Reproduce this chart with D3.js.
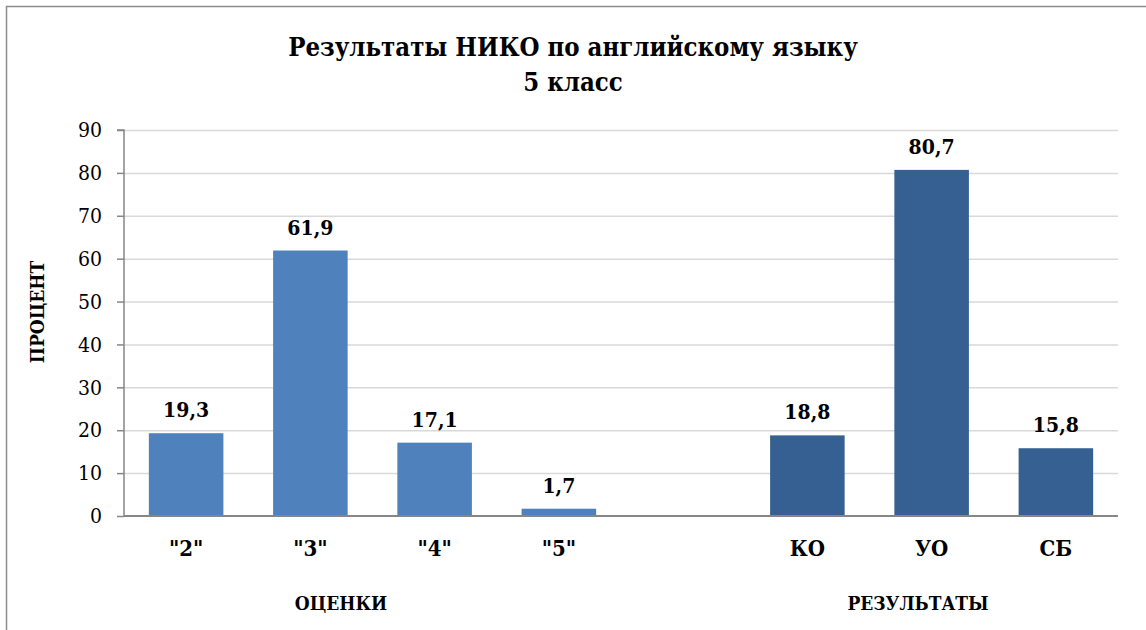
<!DOCTYPE html>
<html><head><meta charset="utf-8">
<script src="https://cdn.jsdelivr.net/npm/d3@7"></script>
<style>
body{margin:0;background:#fff;}
text{font-family:"DejaVu Serif",serif;font-stretch:condensed;}
</style></head>
<body><svg id="c" width="1146" height="630"></svg>
<script>
const categories = ['"2"','"3"','"4"','"5"','','КО','УО','СБ'];
const values = [19.3, 61.9, 17.1, 1.7, null, 18.8, 80.7, 15.8];
const groups = ["ОЦЕНКИ","ОЦЕНКИ","ОЦЕНКИ","ОЦЕНКИ","","РЕЗУЛЬТАТЫ","РЕЗУЛЬТАТЫ","РЕЗУЛЬТАТЫ"];
const yTicks = [0,10,20,30,40,50,60,70,80,90];
const titleLines = ["Результаты НИКО по английскому языку","5 класс"];
const yTitle = "ПРОЦЕНТ";
const groupColors = {"ОЦЕНКИ":"#4F81BD","РЕЗУЛЬТАТЫ":"#376092"};

const svg = d3.select("#c");
svg.append("rect").attr("x",6.5).attr("y",6.5).attr("width",1160).attr("height",640)
  .attr("fill","#fff").attr("stroke","#8c8c8c").attr("stroke-width",1.5);

const L=124, R=1118, T=130, B=516;
const x = d3.scaleBand().domain(categories.map((c,i)=>i)).range([L,R]).paddingInner(0.4).paddingOuter(0.2);
const y = d3.scaleLinear().domain([0,90]).range([B,T]);

// gridlines
svg.append("g").selectAll("line").data(yTicks.filter(t=>t>0)).join("line")
  .attr("x1",L).attr("x2",R).attr("y1",d=>y(d)+0.5).attr("y2",d=>y(d)+0.5)
  .attr("stroke","#d9d9d9").attr("stroke-width",1.5);

// y axis
const yAxis = svg.append("g").attr("transform",`translate(${L},0)`)
  .call(d3.axisLeft(y).tickValues(yTicks).tickSize(7).tickPadding(15));
yAxis.select(".domain").attr("stroke","#868686").attr("stroke-width",1.5).attr("d",`M-7,${T}H0V${B}`);
yAxis.selectAll(".tick line").attr("stroke","#868686").attr("stroke-width",1.5);
yAxis.selectAll(".tick text").attr("font-size",21).attr("fill","#000").attr("font-family","DejaVu Serif").style("font-stretch","condensed");

// bars
const data = categories.map((c,i)=>({i,c,v:values[i],g:groups[i]})).filter(d=>d.v!=null);
svg.append("g").selectAll("rect").data(data).join("rect")
  .attr("x",d=>x(d.i)).attr("width",x.bandwidth())
  .attr("y",d=>y(d.v)).attr("height",d=>B-y(d.v))
  .attr("fill",d=>groupColors[d.g]);

// baseline
svg.append("line").attr("x1",L).attr("x2",R).attr("y1",B).attr("y2",B)
  .attr("stroke","#868686").attr("stroke-width",2);

// value labels
svg.append("g").selectAll("text").data(data).join("text")
  .attr("x",d=>x(d.i)+x.bandwidth()/2).attr("y",d=>y(d.v)-16)
  .attr("text-anchor","middle").attr("font-size",21).attr("font-weight","bold")
  .text(d=>d.v.toFixed(1).replace(".",","));

// category labels
svg.append("g").selectAll("text").data(data).join("text")
  .attr("x",d=>x(d.i)+x.bandwidth()/2).attr("y",556)
  .attr("text-anchor","middle").attr("font-size",22).attr("font-weight","bold")
  .text(d=>d.c);

// group labels
const groupPos = [["ОЦЕНКИ",341],["РЕЗУЛЬТАТЫ",918]];
svg.append("g").selectAll("text").data(groupPos).join("text")
  .attr("x",d=>d[1]).attr("y",610).attr("text-anchor","middle")
  .attr("font-size",19).attr("font-weight","bold").text(d=>d[0]);

// y title
svg.append("text").attr("transform","translate(44,312) rotate(-90)")
  .attr("text-anchor","middle").attr("font-size",19).attr("font-weight","bold").text(yTitle);

// title
svg.append("g").selectAll("text").data(titleLines).join("text")
  .attr("x",573).attr("y",(d,i)=>56+i*35).attr("text-anchor","middle")
  .attr("font-size",25.5).attr("font-weight","bold").text(d=>d);
</script></body></html>
